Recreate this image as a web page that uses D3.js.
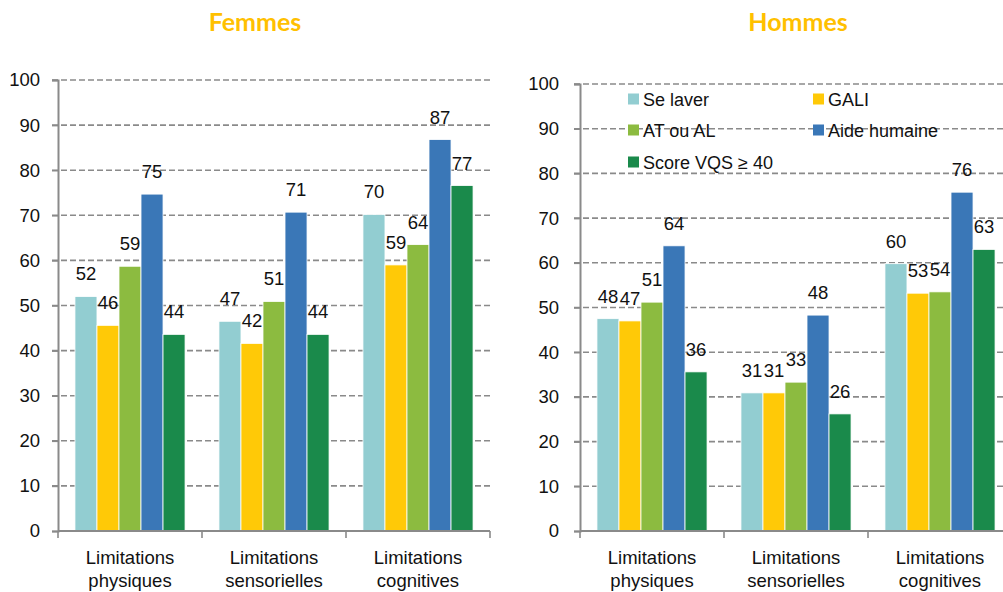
<!DOCTYPE html>
<html>
<head>
<meta charset="utf-8">
<script src="https://cdn.jsdelivr.net/npm/d3@7"></script>
<style>
  body { margin: 0; background: #fff; }
  text { font-family: "Liberation Sans", Arial, sans-serif; fill: #111; }
</style>
</head>
<body>
<svg width="1003" height="592"></svg>
<script>
const categories = [["Limitations", "physiques"], ["Limitations", "sensorielles"], ["Limitations", "cognitives"]];
const series = ["Se laver", "GALI", "AT ou AL", "Aide humaine", "Score VQS \u2265 40"];
const colors = ["#92cdd1", "#ffc907", "#8cbb40", "#3a77b7", "#1a8a4b"];
const yTicks = [0, 10, 20, 30, 40, 50, 60, 70, 80, 90, 100];

// valeurs par catégorie, dans l'ordre des séries
const femmes = [
  [52.0, 45.6, 58.7, 74.7, 43.6],
  [46.5, 41.6, 50.9, 70.7, 43.6],
  [70.2, 59.0, 63.5, 86.8, 76.6]
];
const hommes = [
  [47.5, 47.0, 51.2, 63.8, 35.6],
  [30.9, 30.9, 33.3, 48.3, 26.2],
  [59.8, 53.2, 53.5, 75.8, 63.0]
];

const svg = d3.select('svg');

function drawPanel(opts) {
  const g = svg.append('g');
  const x = d3.scaleBand().domain(d3.range(categories.length)).range([opts.x0, opts.x0 + 3 * 144]);
  const xs = d3.scaleBand().domain(d3.range(series.length)).range([0, x.bandwidth()]).paddingOuter(0.77);
  const y = d3.scaleLinear().domain([0, 100]).range([531, opts.yTop]);

  // grille
  g.selectAll('.grid').data(yTicks.filter(d => d > 0)).enter().append('line')
    .attr('x1', opts.x0 - 6).attr('x2', opts.gridEnd)
    .attr('y1', d => y(d)).attr('y2', d => y(d))
    .attr('stroke', '#8a8a8a').attr('stroke-width', 1.6).attr('stroke-dasharray', '6,3');

  // barres
  const grp = g.selectAll('.grp').data(opts.data).enter().append('g')
    .attr('transform', (d, i) => `translate(${x(i)},0)`);
  grp.selectAll('rect').data(d => d).enter().append('rect')
    .attr('x', (d, j) => xs(j)).attr('width', xs.bandwidth())
    .attr('y', d => y(d)).attr('height', d => y(0) - y(d))
    .attr('fill', (d, j) => colors[j]).attr('stroke', '#fff').attr('stroke-width', 0.8);
  grp.selectAll('.lbl').data(d => d).enter().append('text')
    .attr('x', (d, j) => xs(j) + xs.bandwidth() / 2).attr('y', d => y(d) - 16)
    .attr('text-anchor', 'middle').style('font-size', '18.5px')
    .text(d => Math.round(d));

  // axe y
  const yAxis = g.append('g').attr('transform', `translate(${opts.x0},0)`)
    .call(d3.axisLeft(y).tickValues(yTicks).tickSize(6).tickPadding(opts.tickPad));
  yAxis.select('.domain').attr('stroke', '#8a8a8a').attr('stroke-width', 2);
  yAxis.selectAll('.tick line').attr('stroke', '#8a8a8a').attr('stroke-width', 1.6);
  yAxis.selectAll('.tick text').style('font-size', '18.5px').attr('fill', '#111')
    .style('font-family', '"Liberation Sans", Arial, sans-serif');

  // axe x
  g.append('line').attr('x1', opts.x0).attr('x2', opts.axisEnd).attr('y1', y(0)).attr('y2', y(0))
    .attr('stroke', '#8a8a8a').attr('stroke-width', 2);
  g.selectAll('.xt').data(d3.range(categories.length + 1)).enter().append('line')
    .attr('x1', i => opts.x0 + i * x.bandwidth()).attr('x2', i => opts.x0 + i * x.bandwidth())
    .attr('y1', y(0)).attr('y2', y(0) + 7)
    .attr('stroke', '#8a8a8a').attr('stroke-width', 1.6);
  const cl = g.selectAll('.cl').data(categories).enter().append('text')
    .attr('text-anchor', 'middle').style('font-size', '18.5px')
    .attr('x', (d, i) => x(i) + x.bandwidth() / 2).attr('y', 564);
  cl.selectAll('tspan').data(d => d).enter().append('tspan')
    .attr('x', function () { return this.parentNode.getAttribute('x'); })
    .attr('dy', (d, k) => k === 0 ? 0 : 23).text(d => d);

  // titre
  svg.append('text').attr('x', opts.titleX).attr('y', 31).attr('text-anchor', 'middle')
    .style('font-family', 'Lato, "Open Sans", sans-serif').style('font-weight', 'bold')
    .style('font-size', '25px').style('fill', '#ffc000').text(opts.title);
}

drawPanel({ x0: 58, yTop: 80, gridEnd: 490, axisEnd: 490, data: femmes, title: 'Femmes', titleX: 255, tickPad: 12 });
drawPanel({ x0: 580, yTop: 84, gridEnd: 1003, axisEnd: 1003, data: hommes, title: 'Hommes', titleX: 798, tickPad: 15 });

// légende
const legPos = [[628, 99], [813, 99], [628, 130], [813, 130], [628, 162]];
const leg = svg.selectAll('.leg').data(series).enter().append('g')
  .attr('transform', (d, i) => `translate(${legPos[i][0]},${legPos[i][1]})`);
leg.append('rect').attr('x', 0).attr('y', -5.5).attr('width', 11).attr('height', 11)
  .attr('fill', (d, i) => colors[i]);
leg.append('text').attr('x', 15).attr('y', 6.5).style('font-size', '18px').text(d => d);
</script>
</body>
</html>
